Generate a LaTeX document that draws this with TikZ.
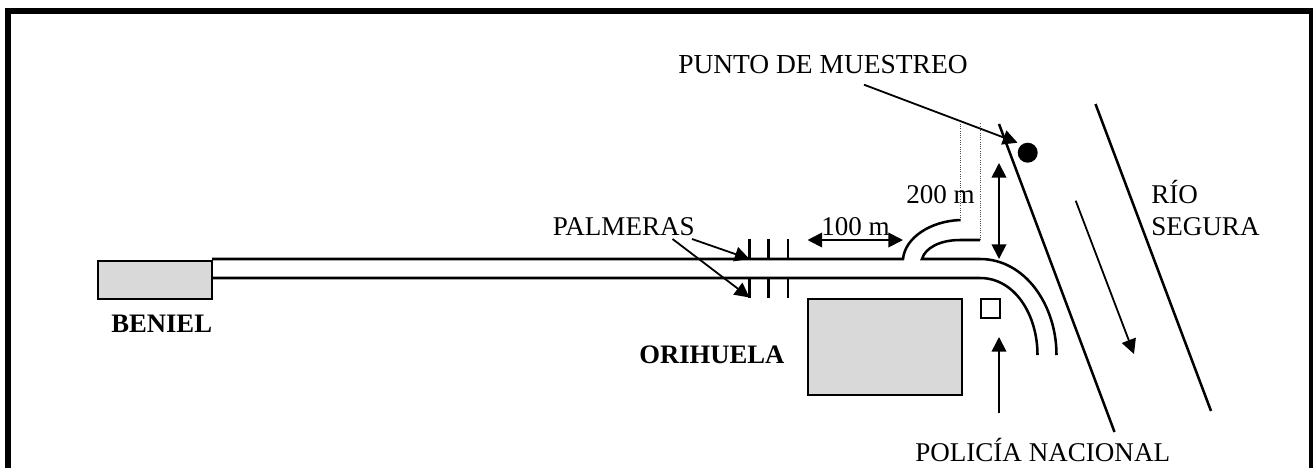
\documentclass[tikz,border=0pt]{standalone}
\usepackage{fontspec}
\setmainfont{Liberation Serif}
\usetikzlibrary{arrows.meta}
\tikzset{
  x=0.75pt,y=-0.75pt,
  road/.style={line width=1.9pt,line cap=butt},
  ptick/.style={line width=1.7pt},
  river/.style={line width=1.9pt},
  tipped/.style={line width=1.35pt,-{Triangle[length=11pt,width=11pt]}},
  both/.style={line width=1.35pt,{Triangle[length=11pt,width=11pt]}-{Triangle[length=11pt,width=11pt]}},
  town/.style={draw,line width=1.5pt,fill=black!15,inner sep=0pt,anchor=north west},
  lab/.style={font=\fontsize{20.3pt}{22pt}\selectfont,inner sep=0pt,anchor=base west},
  blab/.style={font=\fontsize{20pt}{22pt}\selectfont\bfseries,inner sep=0pt,anchor=base west},
  dots/.style={line width=0.7pt,densely dotted,black!70},
  bar/.style={fill=black},
}
\begin{document}
\begin{tikzpicture}
\useasboundingbox (0,0) rectangle (1313,468);
\fill[white] (0,0) rectangle (1313,468);
% frame (open at the foot of the picture)
\fill[bar] (5,8) rectangle (1313,14);
\fill[bar] (5,8) rectangle (11,468);
\fill[bar] (1309,8) rectangle (1313,468);
% towns
\node[town,minimum width=86pt,minimum height=28.5pt] (beniel) at (96.5,259.5) {};
\node[town,minimum width=115.5pt,minimum height=72pt] (ori) at (807,297.5) {};
\node[draw,line width=1.4pt,inner sep=0pt,minimum size=14.5pt,anchor=north west] (pol) at (980,298) {};
% named points
\coordinate (ua) at (212,259);
\coordinate (ub) at (903,259);
\coordinate (uc) at (960.5,220);
\coordinate (uc2) at (960.5,123);
\coordinate (ia) at (980,240);
\coordinate (ia2) at (980,123);
\coordinate (ib) at (960,240);
\coordinate (ic) at (922,259);
\coordinate (id) at (980,259);
\coordinate (ie) at (1056.5,355);
\coordinate (la) at (212,278);
\coordinate (lb) at (980,278);
\coordinate (lc) at (1037.5,355);
% roads
\draw[road] (ua) -- (ub) .. controls (905,238) and (930,221) .. (uc);
\draw[road] (ia) -- (ib) .. controls (940,240) and (925,248) .. (ic) -- (id) .. controls (1025,259) and (1056.5,305) .. (ie);
\draw[road] (la) -- (lb) .. controls (1015,278) and (1037.5,315) .. (lc);
\draw[dots] (uc) -- (uc2);
\draw[dots] (ia) -- (ia2);
% palm ticks
\foreach \n/\x in {a/749.5,b/768.5,c/788}{
  \coordinate (pu\n) at (\x,239);
  \coordinate (pv\n) at (\x,259);
  \coordinate (pw\n) at (\x,278);
  \coordinate (pz\n) at (\x,297.5);
  \draw[ptick] (pu\n) -- (pv\n);
  \draw[ptick] (pw\n) -- (pz\n);
}
% river
\coordinate (ra) at (999,124);
\coordinate (rb) at (1114.5,432);
\coordinate (rc) at (1095.5,104);
\coordinate (rd) at (1211,411);
\draw[river] (ra) -- (rb);
\draw[river] (rc) -- (rd);
% sampling point
\node[circle,fill=black,inner sep=0pt,minimum size=15pt] (dot) at (1027.7,152.7) {};
% labels
\node[lab,font=\fontsize{20.6pt}{22pt}\selectfont] (tpunto) at (678,73) {PUNTO DE MUESTREO};
\node[lab] (t200) at (906,203) {200 m};
\node[lab] (t100) at (821,235) {100 m};
\node[lab] (tpalm) at (552.5,235) {PALMERAS};
\node[lab] (trio) at (1151,203) {RÍO};
\node[lab] (tseg) at (1151,235) {SEGURA};
\node[blab] (tben) at (111,332) {BENIEL};
\node[blab] (tori) at (639,363.5) {ORIHUELA};
\node[lab] (tpol) at (915,461) {POLICÍA NACIONAL};
% arrows
\coordinate (a1) at (864,84.7);
\coordinate (a1t) at (1017.5,142.7);
\draw[tipped] (a1) -- (a1t);
\coordinate (a2) at (692,239);
\coordinate (a3) at (672.5,239);
\draw[tipped] (a2) -- (pva);
\draw[tipped] (a3) -- (pza);
\coordinate (h1) at (807.5,240);
\coordinate (h2) at (903,240);
\draw[both] (h1) -- (h2);
\coordinate (v1) at (999,163);
\coordinate (v2) at (999,259);
\draw[both] (v1) -- (v2);
\coordinate (p1) at (999,413);
\coordinate (p2) at (999,337);
\draw[tipped] (p1) -- (p2);
\coordinate (f1) at (1075.7,200.7);
\coordinate (f2) at (1134,354);
\draw[tipped] (f1) -- (f2);
\end{tikzpicture}
\end{document}
